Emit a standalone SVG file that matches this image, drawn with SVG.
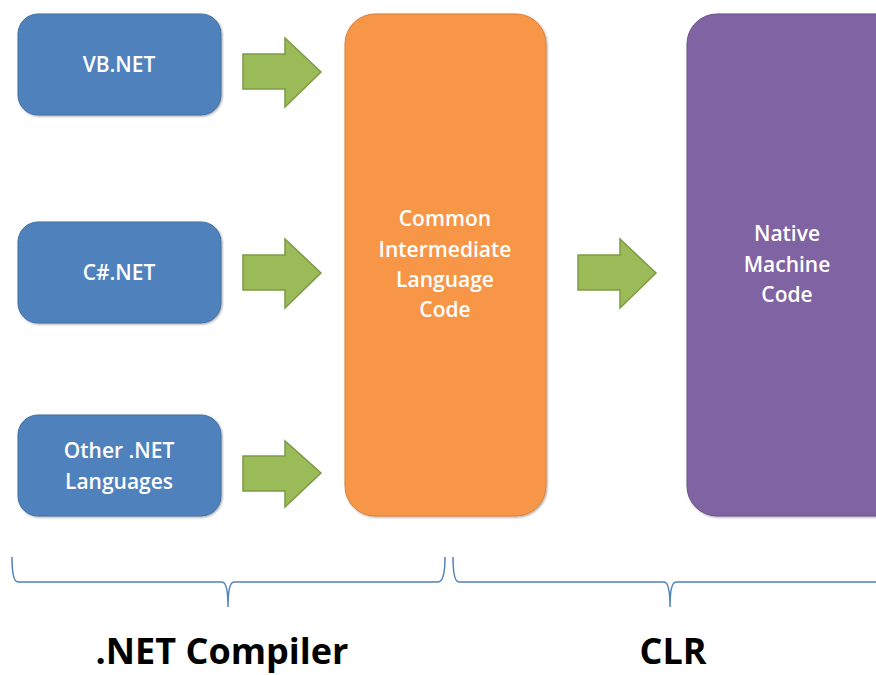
<svg xmlns="http://www.w3.org/2000/svg" width="876" height="675" viewBox="0 0 876 675">
<defs>
<style>
.blue{fill:#4f81bd;stroke:#41709f;stroke-width:1}
.orange{fill:#f79646;stroke:#d9803a;stroke-width:1}
.purple{fill:#8064a2;stroke:#6a5289;stroke-width:1}
.arrow{fill:#9bbb59;stroke:#7d9a45;stroke-width:1.5}
.t{font-family:"Open Sans","Noto Sans","Liberation Sans",sans-serif;font-size:21px;font-weight:600;fill:#ffffff;text-anchor:middle}
.brace{fill:none;stroke:#4f81bd;stroke-width:1.5}
.lbl{font-family:"Open Sans","Liberation Sans",sans-serif;font-size:36px;font-weight:bold;fill:#000;text-anchor:middle}
</style>
<filter id="sh" x="-10%" y="-10%" width="120%" height="120%"><feDropShadow dx="1" dy="1" stdDeviation="1" flood-color="#000" flood-opacity="0.35"/></filter>
</defs>
<rect width="876" height="675" fill="#ffffff"/>
<g id="vbnet"><rect class="blue" x="18" y="14" width="203" height="101" rx="20" filter="url(#sh)"/><text class="t" x="119" y="72">VB.NET</text></g>
<g id="csnet"><rect class="blue" x="18" y="222" width="203" height="101" rx="20" filter="url(#sh)"/><text class="t" x="119" y="280">C#.NET</text></g>
<g id="other"><rect class="blue" x="18" y="415" width="203" height="101" rx="20" filter="url(#sh)"/><text class="t" x="119" y="458">Other .NET</text><text class="t" x="119" y="489">Languages</text></g>
<g id="cil"><rect class="orange" x="345" y="14" width="201" height="502" rx="30" filter="url(#sh)"/><text class="t" x="445" y="226">Common</text><text class="t" x="445" y="257">Intermediate</text><text class="t" x="445" y="287">Language</text><text class="t" x="445" y="317">Code</text></g>
<g id="native"><rect class="purple" x="687" y="14" width="220" height="502" rx="30" filter="url(#sh)"/><text class="t" x="787" y="241">Native</text><text class="t" x="787" y="272">Machine</text><text class="t" x="787" y="302">Code</text></g>
<g id="connectors">
<polygon class="arrow" points="243,54 285,54 285,38 321,72 285,107 285,89 243,89"/>
<polygon class="arrow" points="243,255 285,255 285,239 321,273 285,308 285,290 243,290"/>
<polygon class="arrow" points="243,456 285,456 285,441 321,473 285,507 285,491 243,491"/>
<polygon class="arrow" points="578,255 620,255 620,239 656,273 620,308 620,290 578,290"/>
</g>
<g id="brace-compiler"><path class="brace" d="M12,557 Q12,582 18,582 L222,582 Q228,582 228,607 Q228,582 234,582 L438,582 Q445,582 445,557"/><text class="lbl" x="222" y="664">.NET Compiler</text></g>
<g id="brace-clr"><path class="brace" d="M453,557 Q453,582 459,582 L664,582 Q670,582 670,607 Q670,582 676,582 L876,582"/><text class="lbl" x="673" y="664">CLR</text></g>
</svg>
